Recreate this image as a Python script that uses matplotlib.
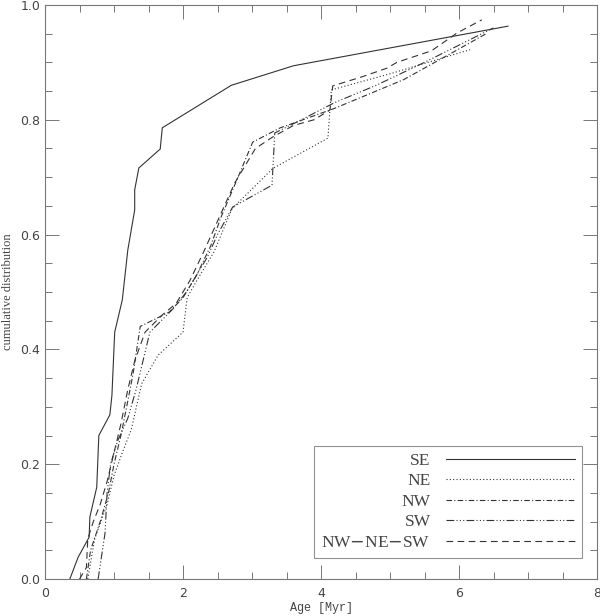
import matplotlib
matplotlib.use("Agg")
import matplotlib.pyplot as plt
from matplotlib.ticker import MultipleLocator

# cumulative age distributions
se_age = [0.36, 0.48, 0.64, 0.65, 0.75, 0.78, 0.94, 0.97, 1.01, 1.12, 1.20, 1.30, 1.30, 1.36, 1.67, 1.70, 2.70, 3.60, 6.71]
se_cum = [0.0, 0.038, 0.073, 0.108, 0.16, 0.25, 0.286, 0.32, 0.43, 0.486, 0.573, 0.643, 0.678, 0.716, 0.749, 0.786, 0.86, 0.894, 0.963]

ne_age = [0.62, 0.72, 0.78, 0.90, 1.00, 1.12, 1.25, 1.40, 1.64, 2.00, 2.06, 2.20, 2.45, 2.71, 3.30, 4.10, 4.15, 5.00, 6.16]
ne_cum = [0.0, 0.07, 0.09, 0.13, 0.18, 0.22, 0.26, 0.34, 0.39, 0.43, 0.49, 0.52, 0.57, 0.645, 0.715, 0.768, 0.852, 0.88, 0.922]

nw_age = [0.60, 0.66, 0.80, 0.92, 1.00, 1.10, 1.20, 1.28, 1.38, 1.80, 2.00, 2.20, 2.40, 2.55, 2.78, 3.01, 3.41, 3.60, 4.20, 4.60, 5.20, 5.80, 6.41]
nw_cum = [0.0, 0.05, 0.10, 0.15, 0.20, 0.25, 0.31, 0.36, 0.44, 0.465, 0.49, 0.53, 0.58, 0.63, 0.695, 0.761, 0.786, 0.794, 0.82, 0.84, 0.87, 0.91, 0.951]

sw_age = [0.77, 0.87, 0.90, 0.95, 1.05, 1.20, 1.32, 1.52, 1.85, 2.05, 2.20, 2.35, 2.50, 2.72, 3.29, 3.33, 3.65, 4.20, 4.80, 5.50, 6.50]
sw_cum = [0.0, 0.08, 0.15, 0.20, 0.24, 0.28, 0.33, 0.43, 0.47, 0.50, 0.53, 0.56, 0.60, 0.648, 0.686, 0.777, 0.796, 0.83, 0.86, 0.90, 0.96]

all_age = [0.50, 0.55, 0.60, 0.62, 0.70, 0.80, 0.90, 1.00, 1.10, 1.20, 1.30, 1.45, 1.70, 1.90, 2.10, 2.30, 2.45, 2.60, 2.75, 2.90, 3.05, 3.30, 3.60, 3.90, 4.13, 4.17, 4.60, 4.96, 5.10, 5.60, 5.97, 6.33]
all_cum = [0.0, 0.01, 0.02, 0.07, 0.10, 0.13, 0.17, 0.22, 0.27, 0.33, 0.38, 0.43, 0.46, 0.48, 0.52, 0.57, 0.61, 0.65, 0.69, 0.72, 0.75, 0.77, 0.79, 0.80, 0.817, 0.859, 0.875, 0.89, 0.90, 0.92, 0.951, 0.974]

series = [
    ("SE", se_age, se_cum, "-"),
    ("NE", ne_age, ne_cum, (0, (1, 2))),
    ("NW", nw_age, nw_cum, (0, (5, 2, 1, 2))),
    ("SW", sw_age, sw_cum, (0, (7, 2, 1, 2, 1, 2, 1, 2))),
    ("NW$-$NE$-$SW", all_age, all_cum, (0, (6, 4))),
]

fig = plt.figure(figsize=(6.0, 6.16), dpi=100)
ax = fig.add_axes([0.075, 0.06, 0.92, 0.932])

for name, age, cum, ls in series:
    ax.plot(age, cum, color="#333333", lw=0.8, linestyle=ls, label=name)

ax.set_xlim(0, 8)
ax.set_ylim(0, 1)
ax.xaxis.set_major_locator(MultipleLocator(2))
ax.xaxis.set_minor_locator(MultipleLocator(0.5))
ax.yaxis.set_major_locator(MultipleLocator(0.2))
ax.yaxis.set_minor_locator(MultipleLocator(0.05))
ax.xaxis.set_major_formatter(plt.FuncFormatter(lambda v, p: f"{v:.0f}"))
ax.yaxis.set_major_formatter(plt.FuncFormatter(lambda v, p: f"{v:.1f}"))
ax.tick_params(which="both", direction="in", top=True, right=True, color="#777777",
               labelcolor="#444444", labelsize=9, width=0.7)
ax.tick_params(which="major", length=10)
ax.tick_params(which="minor", length=5)
ax.tick_params(axis="x", pad=6)
for sp in ax.spines.values():
    sp.set_color("#777777")
    sp.set_linewidth(0.8)

ax.set_xlabel("Age [Myr]", family="Liberation Mono", fontsize=8.5, color="#444444", labelpad=1)
ax.set_ylabel("cumulative distribution", family="Liberation Serif", fontsize=9, color="#444444")
ax.yaxis.set_label_coords(-0.056, 0.5)

leg = ax.legend(loc="lower right", bbox_to_anchor=(0.972, 0.037), markerfirst=False,
                fancybox=False, handlelength=7.4, handletextpad=0.9, labelspacing=0.25,
                borderpad=0.4, borderaxespad=0,
                prop={"family": "Liberation Serif", "size": 12.5})
leg.get_frame().set_edgecolor("#777777")
leg.get_frame().set_linewidth(0.8)
for t in leg.get_texts():
    t.set_color("#444444")

fig.savefig("out.png", dpi=100)
